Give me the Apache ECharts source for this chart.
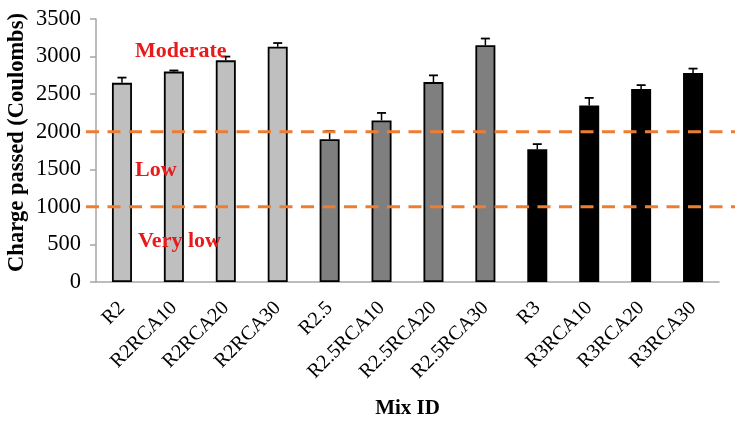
<!DOCTYPE html>
<html>
<head>
<meta charset="utf-8">
<script src="https://cdn.jsdelivr.net/npm/echarts@6/dist/echarts.min.js"></script>
<style>html,body{margin:0;padding:0;background:#fff}#c{width:737px;height:429px}</style>
</head>
<body>
<div id="c"></div>
<script>
var categories = ['R2','R2RCA10','R2RCA20','R2RCA30','R2.5','R2.5RCA10','R2.5RCA20','R2.5RCA30','R3','R3RCA10','R3RCA20','R3RCA30'];
var charge = [2650, 2800, 2950, 3130, 1900, 2150, 2660, 3150, 1765, 2350, 2570, 2780];
var errorUp = [70, 15, 50, 50, 110, 100, 90, 90, 70, 100, 50, 60];
var groupColors = ['#bfbfbf', '#7f7f7f', '#000000'];
var thresholds = [2000, 1000];
var zoneLabels = ['Moderate', 'Low', 'Very low'];
var yTicks = [0, 500, 1000, 1500, 2000, 2500, 3000, 3500];

var serif = "'Liberation Serif','Times New Roman',serif";
var chart = echarts.init(document.getElementById('c'), null, {renderer: 'canvas'});

var barData = charge.map(function (v, i) {
  return {value: v, itemStyle: {color: groupColors[Math.floor(i / 4)]}};
});
var errData = charge.map(function (v, i) { return [i, v, v + errorUp[i]]; });

var series = [
  {
    type: 'bar', xAxisIndex: 0, yAxisIndex: 0,
    data: barData, barWidth: 20,
    itemStyle: {borderColor: '#000', borderWidth: 1.8},
    z: 2
  },
  {
    type: 'custom', xAxisIndex: 0, yAxisIndex: 0,
    data: errData, z: 3,
    renderItem: function (params, api) {
      var x = api.value(0);
      var p0 = api.coord([x, api.value(1)]);
      var p1 = api.coord([x, api.value(2)]);
      var hw = 4.5;
      return {
        type: 'group',
        children: [
          {type: 'line', shape: {x1: p0[0], y1: p0[1], x2: p1[0], y2: p1[1]}, style: {stroke: '#000', lineWidth: 1.5}},
          {type: 'line', shape: {x1: p1[0] - hw, y1: p1[1], x2: p1[0] + hw, y2: p1[1]}, style: {stroke: '#000', lineWidth: 1.8}}
        ]
      };
    }
  }
];
thresholds.forEach(function (t) {
  series.push({
    type: 'line', xAxisIndex: 1, yAxisIndex: 1,
    data: [[0, t], [1, t]], symbol: 'none', silent: true, z: 5,
    lineStyle: {color: '#ED7D31', width: 3, type: [13, 8.5]}
  });
});

var option = {
  backgroundColor: '#fff',
  animation: false,
  grid: [
    {left: 96, right: 18, top: 19, bottom: 147, containLabel: false, outerBoundsMode: 'none'},
    {left: 86, right: 2, top: 19, bottom: 147, containLabel: false, outerBoundsMode: 'none'}
  ],
  xAxis: [
    {
      type: 'category', gridIndex: 0, data: categories,
      axisLine: {lineStyle: {color: '#a6a6a6', width: 1.5}},
      axisTick: {show: false},
      axisLabel: {rotate: 45, fontFamily: serif, fontSize: 20, color: '#000', margin: 23, interval: 0},
      name: 'Mix ID', nameLocation: 'middle', nameGap: 116, nameMoveOverlap: false,
      nameTextStyle: {fontFamily: serif, fontSize: 21, fontWeight: 'bold', color: '#000'}
    },
    {type: 'value', gridIndex: 1, min: 0, max: 1, show: false}
  ],
  yAxis: [
    {
      type: 'value', gridIndex: 0, min: 0, max: 3500, interval: 500,
      axisLine: {show: true, lineStyle: {color: '#a6a6a6', width: 1.5}},
      axisTick: {show: true, length: 6, lineStyle: {color: '#a6a6a6', width: 1.5}},
      splitLine: {show: false},
      axisLabel: {fontFamily: serif, fontSize: 22.5, color: '#000', margin: 15,
        formatter: function (v) { return String(v); }},
      name: 'Charge passed (Coulombs)', nameLocation: 'middle', nameGap: 67, nameMoveOverlap: false,
      nameTextStyle: {fontFamily: serif, fontSize: 22.5, fontWeight: 'bold', color: '#000', padding: [0, 0, 0, 16]}
    },
    {type: 'value', gridIndex: 1, min: 0, max: 3500, show: false}
  ],
  graphic: [
    {type: 'text', left: 135, top: 40, z: 100, style: {text: zoneLabels[0], font: "bold 22px " + serif, fill: '#e81a1a'}},
    {type: 'text', left: 135, top: 159, z: 100, style: {text: zoneLabels[1], font: "bold 22px " + serif, fill: '#e81a1a'}},
    {type: 'text', left: 138, top: 230, z: 100, style: {text: zoneLabels[2], font: "bold 22px " + serif, fill: '#e81a1a'}}
  ],
  series: series
};
chart.setOption(option);
</script>
</body>
</html>
